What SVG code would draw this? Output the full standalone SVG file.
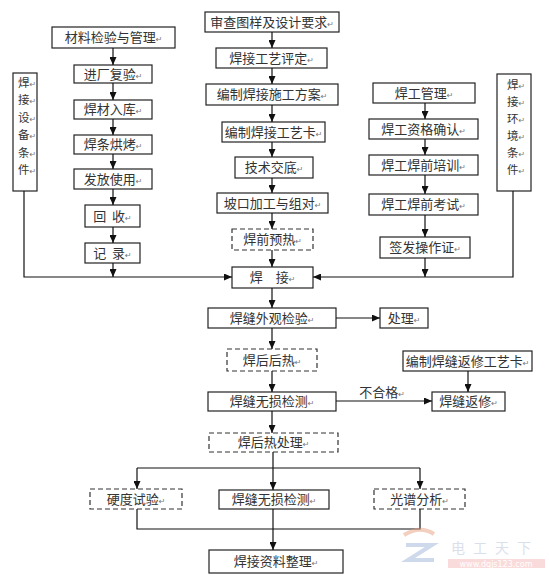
<svg xmlns="http://www.w3.org/2000/svg" width="549" height="580" viewBox="0 0 549 580">
<style>
.b{fill:#fff;stroke:#222;stroke-width:1.2}
.d{fill:#fff;stroke:#333;stroke-width:1.2;stroke-dasharray:5 3}
.t{font-family:"Noto Sans CJK SC","Noto Sans CJK JP",sans-serif;font-size:13px;fill:#333;text-anchor:middle}
.v{font-family:"Noto Sans CJK SC","Noto Sans CJK JP",sans-serif;font-size:11.5px;fill:#333;text-anchor:middle}
.r{font-family:"DejaVu Sans",sans-serif;font-size:8px;fill:#777}
.c{stroke:#111;stroke-width:1.2;fill:none}
.a{stroke:#111;stroke-width:1.2;fill:none;marker-end:url(#ah)}
</style>
<defs>
<marker id="ah" markerWidth="8" markerHeight="7" refX="8" refY="3.5" orient="auto" markerUnits="userSpaceOnUse">
<path d="M0,0 L8,3.5 L0,7 z" fill="#111"/>
</marker>
</defs>
<rect width="549" height="580" fill="#fff"/>

<g id="n-mat"><rect class="b" x="52" y="27" width="123" height="21"/><text class="t" x="113.5" y="42">材料检验与管理<tspan class="r">↵</tspan></text></g>
<g id="n-jcfy"><rect class="b" x="74" y="65" width="78" height="18"/><text class="t" x="113" y="78.5">进厂复验<tspan class="r">↵</tspan></text></g>
<g id="n-hcrk"><rect class="b" x="74" y="100" width="78" height="19"/><text class="t" x="113" y="114">焊材入库<tspan class="r">↵</tspan></text></g>
<g id="n-htkh"><rect class="b" x="74" y="135" width="78" height="19"/><text class="t" x="113" y="149">焊条烘烤<tspan class="r">↵</tspan></text></g>
<g id="n-ffsy"><rect class="b" x="74" y="169" width="78" height="20"/><text class="t" x="113" y="183.5">发放使用<tspan class="r">↵</tspan></text></g>
<g id="n-hs"><rect class="b" x="85" y="205" width="55" height="22"/><text class="t" x="112.5" y="220.5">回&#160;&#160;收<tspan class="r">↵</tspan></text></g>
<g id="n-jl"><rect class="b" x="85" y="243" width="55" height="20"/><text class="t" x="112.5" y="257.5">记&#160;&#160;录<tspan class="r">↵</tspan></text></g>
<g id="n-sbtj"><rect class="b" x="13" y="73" width="24" height="118"/>
<text class="v" x="27" y="86.5">焊<tspan class="r">↵</tspan></text>
<text class="v" x="27" y="104">接<tspan class="r">↵</tspan></text>
<text class="v" x="27" y="121.5">设<tspan class="r">↵</tspan></text>
<text class="v" x="27" y="139">备<tspan class="r">↵</tspan></text>
<text class="v" x="27" y="156.5">条<tspan class="r">↵</tspan></text>
<text class="v" x="27" y="174">件<tspan class="r">↵</tspan></text></g>

<g id="n-sc"><rect class="b" x="205" y="12" width="134" height="20"/><text class="t" x="272" y="26.5">审查图样及设计要求<tspan class="r">↵</tspan></text></g>
<g id="n-pd"><rect class="b" x="216" y="48" width="111" height="20"/><text class="t" x="271.5" y="62.5">焊接工艺评定<tspan class="r">↵</tspan></text></g>
<g id="n-fa"><rect class="b" x="206" y="84" width="132" height="21"/><text class="t" x="272" y="99">编制焊接施工方案<tspan class="r">↵</tspan></text></g>
<g id="n-gyk"><rect class="b" x="222" y="122" width="103" height="20"/><text class="t" x="273.5" y="136.5">编制焊接工艺卡<tspan class="r">↵</tspan></text></g>
<g id="n-jd"><rect class="b" x="235" y="157" width="78" height="21"/><text class="t" x="274" y="172">技术交底<tspan class="r">↵</tspan></text></g>
<g id="n-pk"><rect class="b" x="217" y="193" width="111" height="20"/><text class="t" x="272.5" y="207.5">坡口加工与组对<tspan class="r">↵</tspan></text></g>
<g id="n-yr"><rect class="d" x="232" y="229" width="81" height="21"/><text class="t" x="272.5" y="244">焊前预热<tspan class="r">↵</tspan></text></g>
<g id="n-hj"><rect class="b" x="232" y="267" width="81" height="21"/><text class="t" x="272.5" y="282">焊　接<tspan class="r">↵</tspan></text></g>

<g id="n-hggl"><rect class="b" x="373" y="83" width="102" height="20"/><text class="t" x="424" y="97.5">焊工管理<tspan class="r">↵</tspan></text></g>
<g id="n-zgqr"><rect class="b" x="369" y="119" width="109" height="20"/><text class="t" x="423.5" y="133.5">焊工资格确认<tspan class="r">↵</tspan></text></g>
<g id="n-px"><rect class="b" x="369" y="155" width="109" height="20"/><text class="t" x="423.5" y="169.5">焊工焊前培训<tspan class="r">↵</tspan></text></g>
<g id="n-ks"><rect class="b" x="369" y="194" width="109" height="21"/><text class="t" x="423.5" y="209">焊工焊前考试<tspan class="r">↵</tspan></text></g>
<g id="n-qf"><rect class="b" x="380" y="237" width="90" height="21"/><text class="t" x="425" y="252">签发操作证<tspan class="r">↵</tspan></text></g>
<g id="n-hjtj"><rect class="b" x="497" y="74" width="34" height="117"/>
<text class="v" x="516" y="88.5">焊<tspan class="r">↵</tspan></text>
<text class="v" x="516" y="105.5">接<tspan class="r">↵</tspan></text>
<text class="v" x="516" y="122.5">环<tspan class="r">↵</tspan></text>
<text class="v" x="516" y="139.5">境<tspan class="r">↵</tspan></text>
<text class="v" x="516" y="156.5">条<tspan class="r">↵</tspan></text>
<text class="v" x="516" y="173.5">件<tspan class="r">↵</tspan></text></g>

<g id="n-wg"><rect class="b" x="208" y="308" width="128" height="20"/><text class="t" x="272" y="322.5">焊缝外观检验<tspan class="r">↵</tspan></text></g>
<g id="n-cl"><rect class="b" x="380" y="308" width="48" height="20"/><text class="t" x="404" y="322.5">处理<tspan class="r">↵</tspan></text></g>
<g id="n-hr"><rect class="d" x="227" y="349" width="90" height="22"/><text class="t" x="272" y="364.5">焊后后热<tspan class="r">↵</tspan></text></g>
<g id="n-ws"><rect class="b" x="208" y="392" width="128" height="19"/><text class="t" x="272" y="406">焊缝无损检测<tspan class="r">↵</tspan></text></g>
<g id="n-fxk"><rect class="b" x="403" y="351" width="129" height="20"/><text class="t" x="467.5" y="365.5">编制焊缝返修工艺卡<tspan class="r">↵</tspan></text></g>
<g id="n-fx"><rect class="b" x="432" y="392" width="73" height="19"/><text class="t" x="468.5" y="406">焊缝返修<tspan class="r">↵</tspan></text></g>
<g id="n-rcl"><rect class="d" x="209" y="433" width="129" height="19"/><text class="t" x="273.5" y="447">焊后热处理<tspan class="r">↵</tspan></text></g>
<g id="n-yd"><rect class="d" x="90" y="489" width="92" height="20"/><text class="t" x="136" y="503.5">硬度试验<tspan class="r">↵</tspan></text></g>
<g id="n-ws2"><rect class="b" x="219" y="490" width="110" height="19"/><text class="t" x="274" y="504">焊缝无损检测<tspan class="r">↵</tspan></text></g>
<g id="n-gp"><rect class="d" x="374" y="489" width="91" height="20"/><text class="t" x="419.5" y="503.5">光谱分析<tspan class="r">↵</tspan></text></g>
<g id="n-zl"><rect class="b" x="209" y="550" width="134" height="23"/><text class="t" x="276" y="566">焊接资料整理<tspan class="r">↵</tspan></text></g>

<g id="connectors">
<path class="a" d="M113 48V65"/>
<path class="a" d="M113 83V100"/>
<path class="a" d="M113 119V135"/>
<path class="a" d="M113 154V169"/>
<path class="a" d="M113 189V205"/>
<path class="a" d="M113 227V243"/>
<path class="a" d="M113 263V277"/>
<path class="a" d="M272 32V48"/>
<path class="a" d="M272 68V84"/>
<path class="a" d="M272 105V122"/>
<path class="a" d="M272 142V157"/>
<path class="a" d="M272 178V193"/>
<path class="a" d="M272 213V229"/>
<path class="a" d="M272 250V267"/>
<path class="a" d="M425 103V119"/>
<path class="a" d="M425 139V155"/>
<path class="a" d="M425 175V194"/>
<path class="a" d="M425 215V237"/>
<path class="a" d="M425 258V277"/>
<path class="a" d="M24 191V277H232"/>
<path class="a" d="M513 191V277H313"/>
<path class="a" d="M272 288V308"/>
<path class="a" d="M272 328V349"/>
<path class="a" d="M272 371V392"/>
<path class="a" d="M272 411V433"/>
<path class="a" d="M336 318H380"/>
<path class="a" d="M336 401H432"/>
<text class="t" x="382" y="397">不合格<tspan class="r">↵</tspan></text>
<path class="a" d="M468 371V392"/>
<path class="c" d="M273 452V468M137 468H420"/>
<path class="a" d="M137 468V489"/>
<path class="a" d="M273 468V490"/>
<path class="a" d="M420 468V489"/>
<path class="c" d="M137 509V529H420V509"/>
<path class="a" d="M273 509V550"/>
</g>

<g id="watermark" opacity="0.5">
<path d="M404 535 Q420 525 434 534" stroke="#e9a080" stroke-width="4" fill="none"/>
<path d="M406 545 L432 545 L408 560 L434 560" stroke="#9fb4d8" stroke-width="4" fill="none"/>
<text x="495" y="553" font-family="Noto Sans CJK SC,sans-serif" font-size="14" fill="#b7c3d8" text-anchor="middle" letter-spacing="8">电工天下</text>
<rect x="448" y="559" width="97" height="9" fill="#f6b8b8"/>
<text x="496" y="567" font-family="DejaVu Sans,sans-serif" font-size="8" fill="#fff" text-anchor="middle">www.dqjs123.com</text>
</g>
</svg>
